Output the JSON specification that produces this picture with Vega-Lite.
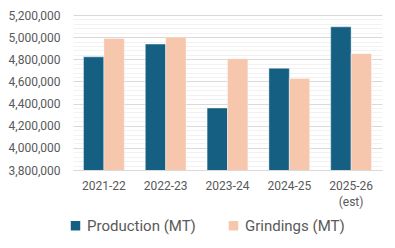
{
  "$schema": "https://vega.github.io/schema/vega-lite/v6.json",
  "autosize": "none",
  "width": 309,
  "height": 155,
  "padding": {"left": 73, "top": 15, "right": 13, "bottom": 78},
  "background": "#ffffff",
  "config": {
    "font": "Roboto",
    "view": {"stroke": null}
  },
  "data": {
    "values": [
      {"year": "2021-22", "series": "Production (MT)", "value": 4822000},
      {"year": "2021-22", "series": "Grindings (MT)", "value": 4988000},
      {"year": "2022-23", "series": "Production (MT)", "value": 4937000},
      {"year": "2022-23", "series": "Grindings (MT)", "value": 5002000},
      {"year": "2023-24", "series": "Production (MT)", "value": 4360000},
      {"year": "2023-24", "series": "Grindings (MT)", "value": 4805000},
      {"year": "2024-25", "series": "Production (MT)", "value": 4719000},
      {"year": "2024-25", "series": "Grindings (MT)", "value": 4627000},
      {"year": "2025-26 (est)", "series": "Production (MT)", "value": 5093000},
      {"year": "2025-26 (est)", "series": "Grindings (MT)", "value": 4851000}
    ]
  },
  "layer": [
    {
      "mark": {"type": "bar", "opacity": 0},
      "encoding": {
        "x": {"field": "year", "type": "nominal", "sort": null,
              "scale": {"paddingInner": 0.34, "paddingOuter": 0.17},
              "axis": {"title": null, "labelAngle": 0, "ticks": false, "domain": true,
                       "domainColor": "#d9d9d9", "labelColor": "#595959", "labelFontSize": 12,
                       "labelPadding": 10, "labelLineHeight": 16,
                       "labelExpr": "split(datum.label, ' ')"}},
        "y": {"field": "value", "type": "quantitative",
              "scale": {"domain": [3800000, 5200000], "zero": false, "nice": false},
              "axis": {"orient": "left", "values": [3840000,3880000,3920000,3960000,4040000,4080000,4120000,4160000,4240000,4280000,4320000,4360000,4440000,4480000,4520000,4560000,4640000,4680000,4720000,4760000,4840000,4880000,4920000,4960000,5040000,5080000,5120000,5160000],
                       "labels": false, "ticks": false, "domain": false, "title": null,
                       "grid": true, "gridColor": "#f2f2f2", "gridWidth": 1}}
      }
    },
    {
      "mark": {"type": "bar", "clip": true, "stroke": "#ffffff", "strokeWidth": 0.8, "strokeOpacity": 0.5},
      "encoding": {
        "x": {"field": "year", "type": "nominal", "sort": null,
              "scale": {"paddingInner": 0.34, "paddingOuter": 0.17},
              "axis": {"title": null, "labelAngle": 0, "ticks": false, "domain": true,
                       "domainColor": "#d9d9d9", "labelColor": "#595959", "labelFontSize": 12,
                       "labelPadding": 10, "labelLineHeight": 16,
                       "labelExpr": "split(datum.label, ' ')"}},
        "xOffset": {"field": "series", "type": "nominal",
                    "sort": ["Production (MT)", "Grindings (MT)"],
                    "scale": {"paddingInner": 0, "paddingOuter": 0}},
        "y": {"field": "value", "type": "quantitative",
              "scale": {"domain": [3800000, 5200000], "zero": false, "nice": false},
              "axis": {"orient": "left", "values": [3800000,4000000,4200000,4400000,4600000,4800000,5000000,5200000],
                       "format": ",d", "title": null, "ticks": false, "domain": false,
                       "labelPadding": 13, "labelColor": "#595959", "labelFontSize": 12,
                       "grid": true, "gridColor": "#d9d9d9", "gridWidth": 1}},
        "color": {"field": "series", "type": "nominal",
                  "scale": {"domain": ["Production (MT)", "Grindings (MT)"], "range": ["#156082", "#F6C6AD"]},
                  "legend": {"title": null, "orient": "none", "direction": "horizontal",
                             "legendX": -5, "legendY": 203,
                             "symbolType": "square", "symbolSize": 90, "symbolStrokeWidth": 0,
                             "labelFontSize": 15, "labelColor": "#595959", "labelOffset": 4,
                             "columnPadding": 30}}
      }
    }
  ],
  "resolve": {"axis": {"y": "independent"}}
}
